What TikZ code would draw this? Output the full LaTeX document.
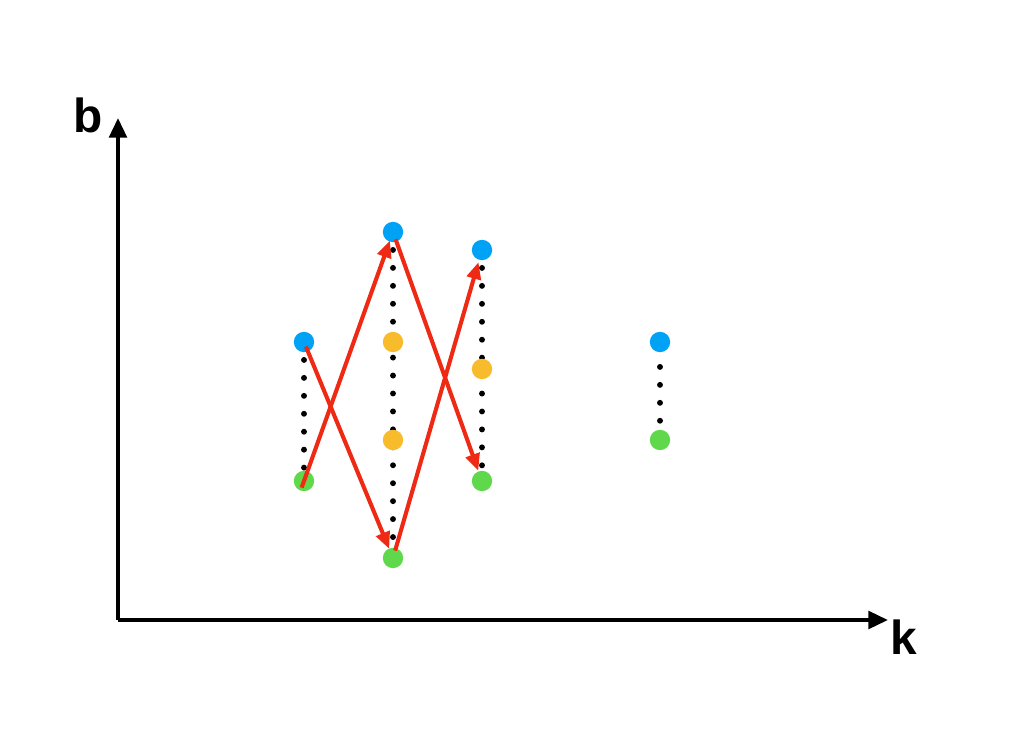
\documentclass[tikz,border=0pt]{standalone}
\usepackage{fontspec}
\setmainfont{Liberation Sans}
\usepackage{xcolor}
\usepackage{tikz}
\usetikzlibrary{arrows.meta,backgrounds}
\definecolor{ptblue}{HTML}{00A2F5}
\definecolor{ptorange}{HTML}{F8BB2C}
\definecolor{ptgreen}{HTML}{60D84C}
\definecolor{ptred}{HTML}{EE2914}
\tikzset{
  pnt/.style  ={circle,inner sep=0pt,minimum size=14.5pt},
  hi/.style   ={pnt,fill=ptblue},
  mid/.style  ={pnt,fill=ptorange},
  lo/.style   ={pnt,fill=ptgreen},
  axis/.style ={-{Triangle[length=14pt,width=12.5pt]},line width=2.8pt,draw=black},
  jump/.style ={-{Triangle[length=12pt,width=10pt]},line width=2.9pt,draw=ptred},
  gap/.style  ={line width=4.2pt,line cap=round,dash pattern=on 0pt off 12.76pt},
  lbl/.style  ={font=\fontsize{34}{34}\bfseries\selectfont,inner sep=0pt},
}

\begin{document}
\begin{tikzpicture}[x=0.025cm,y=-0.025cm]
  \useasboundingbox (0,0) rectangle (1014,738);

  % axes
  \coordinate (O) at (118,620);
  \coordinate (ytop) at (118,118);
  \coordinate (xend) at (888,620);
  \draw[axis] (O) -- (ytop);
  \draw[axis] (O) -- (xend);
  \node[lbl] (bl) at (88,115) {b};
  \node[lbl] (kl) at (904,637) {k};

  % points
  \node[hi]  (b1) at (304,342) {};
  \node[lo]  (g1) at (304,481) {};
  \node[hi]  (b2) at (393,232) {};
  \node[mid] (o2) at (393,342) {};
  \node[mid] (p2) at (393,440) {};
  \node[lo]  (g2) at (393,558) {};
  \node[hi]  (b3) at (482,250) {};
  \node[mid] (o3) at (482,369) {};
  \node[lo]  (g3) at (482,481) {};
  \node[hi]  (b4) at (660,342) {};
  \node[lo]  (g4) at (660,440) {};

  \begin{scope}[on background layer]
    \draw[gap] (b1.center) -- (g1.center);
    \draw[gap] (b2.center) -- (g2.center);
    \draw[gap] (b3.center) -- (g3.center);
    \draw[gap,dash phase=7.8pt] (b4.center) -- (g4.center);
  \end{scope}

  % jumps
  \draw[jump,shorten <=-5pt,shorten >=6.5pt] (g1.center) -- (b2.center);
  \draw[jump,shorten <=3.5pt,shorten >=7pt] (b1.center) -- (g2.center);
  \draw[jump,shorten <=5.5pt,shorten >=9pt] (g2.center) -- (b3.center);
  \draw[jump,shorten <=5.5pt,shorten >=7.8pt] (b2.center) -- (g3.center);
\end{tikzpicture}
\end{document}
